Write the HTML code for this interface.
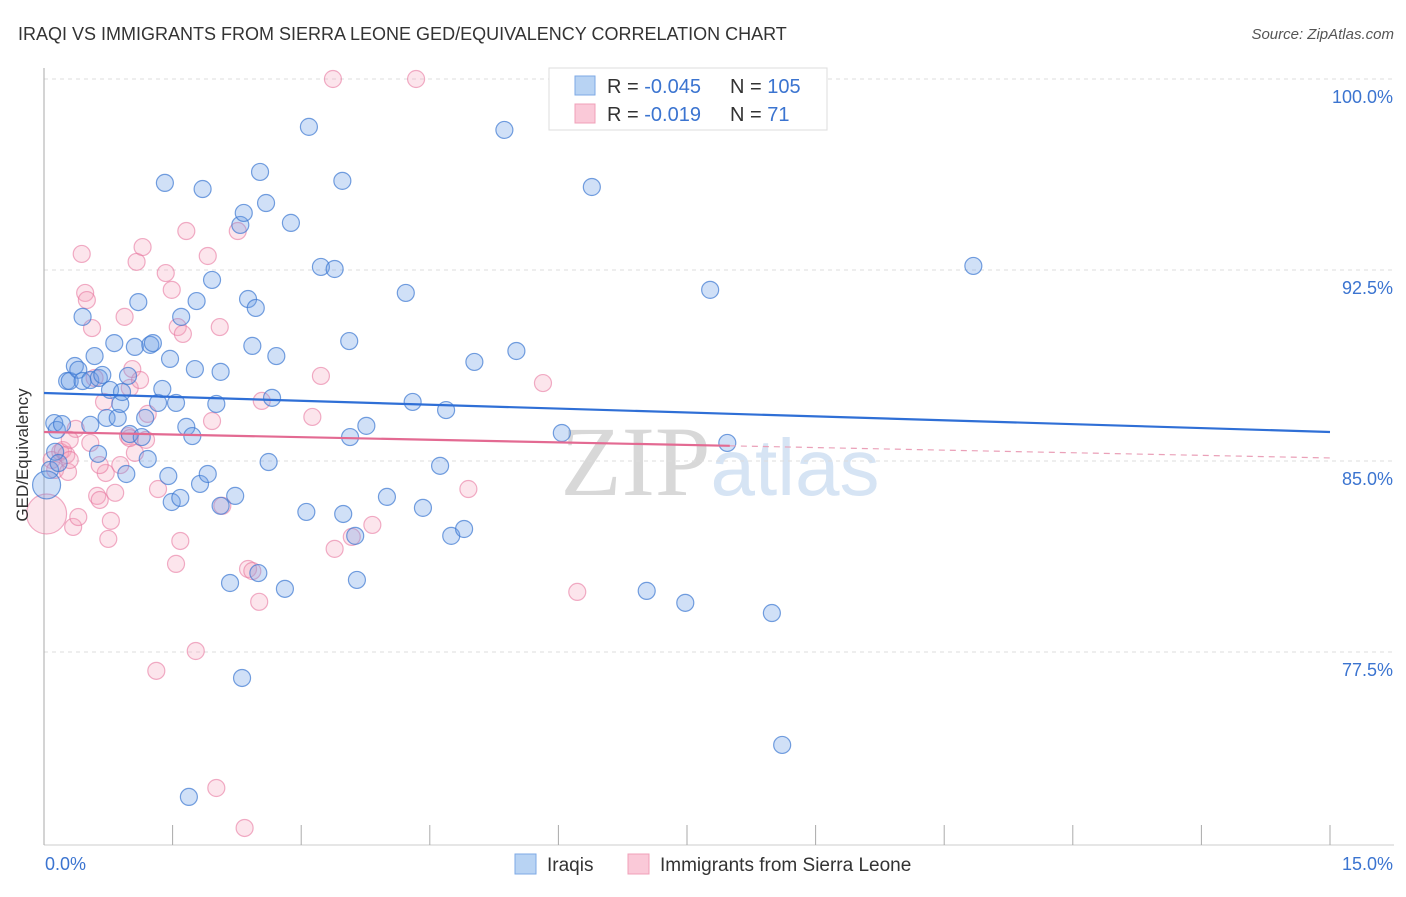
<!DOCTYPE html>
<html><head><meta charset="utf-8"><style>
body{margin:0;background:#fff;font-family:"Liberation Sans",sans-serif}
</style></head><body>
<svg width="1406" height="892" xmlns="http://www.w3.org/2000/svg" font-family="Liberation Sans, sans-serif">
<text x="18" y="40" font-size="18" fill="#333">IRAQI VS IMMIGRANTS FROM SIERRA LEONE GED/EQUIVALENCY CORRELATION CHART</text>
<text x="1394" y="39" font-size="15" fill="#555" text-anchor="end" font-style="italic">Source: ZipAtlas.com</text>
<text x="720" y="495" font-size="100" fill="#ddd" text-anchor="middle" font-family="Liberation Serif, serif"><tspan fill="#d8d8d8">ZIP</tspan><tspan fill="#d6e4f4" font-family="Liberation Sans, sans-serif" font-size="80">atlas</tspan></text>
<g id="grid"></g>
<g id="axes"></g>
<g id="pts"></g>
<g id="trend"></g>
<text x="28" y="455" font-size="17" fill="#333" text-anchor="middle" transform="rotate(-90 28 455)">GED/Equivalency</text>
<g>
<rect x="549" y="68" width="278" height="62" fill="#fff" stroke="#ddd"/>
<rect x="575" y="76" width="20" height="19" fill="#b8d3f3" stroke="#7eaae6"/>
<rect x="575" y="104" width="20" height="19" fill="#fac9d8" stroke="#f0a0b8"/>
<text x="607" y="93" font-size="20" fill="#333">R = <tspan fill="#3b74d0">-0.045</tspan></text>
<text x="730" y="93" font-size="20" fill="#333">N = <tspan fill="#3b74d0">105</tspan></text>
<text x="607" y="121" font-size="20" fill="#333">R = <tspan fill="#3b74d0"> -0.019</tspan></text>
<text x="730" y="121" font-size="20" fill="#333">N = <tspan fill="#3b74d0">  71</tspan></text>
</g>
<g>
<rect x="515" y="854" width="21" height="20" fill="#b8d3f3" stroke="#7eaae6"/>
<text x="547" y="871" font-size="19" fill="#333">Iraqis</text>
<text x="660" y="871" font-size="19" fill="#333">Immigrants from Sierra Leone</text>
<rect x="628" y="854" width="21" height="20" fill="#fac9d8" stroke="#f0a0b8"/>
</g>
</svg>
<script>
const xTicks=[0,1.5,3,4.5,6,7.5,9,10.5,12,13.5,15];
const yTicks=[100,92.5,85,77.5];
const yTickLabels=["100.0%","92.5%","85.0%","77.5%"];
const xTickLabels=["0.0%","15.0%"];
const iraqiX=[.12,.15,.07,.03,.27,.30,.36,.40,.45,.45,.54,.59,.64,.63,.54,.68,.73,.77,.82,.86,.89,.91,.96,.98,1.00,1.06,1.10,1.14,1.18,1.21,1.24,1.27,1.33,1.38,1.41,1.45,1.47,1.49,1.54,1.59,1.60,1.66,1.69,1.73,1.76,1.78,1.82,1.85,1.91,1.96,2.01,2.06,2.06,2.17,2.23,2.29,2.31,2.33,2.38,2.43,2.47,2.50,2.52,2.59,2.62,2.66,2.71,2.81,2.88,3.06,3.09,3.23,3.39,3.48,3.49,3.56,3.57,3.65,3.63,3.76,4.00,4.22,4.30,4.42,4.62,4.69,4.75,4.90,5.02,5.37,5.51,6.04,6.39,7.03,7.48,7.77,7.97,8.49,8.61,10.84,.13,.21,.17,6.64];
const iraqiY=[86.49,86.22,84.65,84.06,88.14,88.14,88.73,88.58,90.66,88.14,88.18,89.12,88.26,85.28,86.42,88.38,86.69,87.79,89.63,86.69,87.24,87.71,84.49,88.34,86.06,89.48,91.24,85.94,86.69,85.08,89.56,89.63,87.28,87.83,95.92,84.41,89.01,83.39,87.28,83.55,90.66,86.34,71.81,85.98,88.61,91.28,84.10,95.68,84.49,92.11,87.24,88.50,83.24,80.21,83.63,94.27,76.48,94.74,91.36,89.52,91.01,80.60,96.35,95.13,84.96,87.48,89.12,79.98,94.35,83.00,98.12,92.62,92.54,96.00,82.92,89.71,85.94,80.33,82.06,86.38,83.59,91.60,87.32,83.16,84.81,87.00,82.06,82.33,88.89,98.00,89.32,86.10,95.76,79.90,79.43,91.72,85.71,79.03,73.85,92.66,85.36,86.45,84.92,99.96];
const slX=[.03,.09,.13,.19,.22,.26,.28,.30,.34,.37,.40,.44,.48,.50,.54,.56,.62,.65,.70,.72,.75,.78,.83,.89,.94,.98,1.00,1.03,1.06,1.08,1.12,1.15,1.19,1.21,1.31,1.33,1.42,1.49,1.54,1.56,1.59,1.62,1.66,1.77,1.91,1.96,2.01,2.05,2.08,2.26,2.34,2.38,2.43,2.51,2.54,3.13,3.23,3.37,3.39,3.59,3.83,4.34,4.95,5.82,6.22,1.00,.30,.59,.65];
const slY=[82.92,85.04,84.65,85.36,85.43,85.24,84.57,85.04,82.41,86.26,82.80,93.13,91.60,91.32,85.71,90.22,83.63,83.47,87.32,84.53,81.94,82.65,83.75,84.84,90.66,85.98,87.87,88.61,85.32,92.82,88.18,93.40,85.83,86.85,76.76,83.90,92.38,91.72,80.96,90.26,81.86,89.99,94.03,77.54,93.05,86.57,72.16,90.26,83.24,94.03,70.59,80.76,80.68,79.47,87.36,86.73,88.34,100.0,81.55,82.02,82.49,100.0,83.90,88.06,79.86,85.90,85.83,88.26,84.84];
const iraqiTrend=[87.67,86.14];
const slTrend=[86.14,85.12];
const slSolidEnd=8.0;
const X=v=>44+v*(1330-44)/15;
const Y=v=>79+(100-v)*191/7.5;
const NS="http://www.w3.org/2000/svg";
function mk(p,t,a){const e=document.createElementNS(NS,t);for(const k in a)e.setAttribute(k,a[k]);p.appendChild(e);return e;}
const grid=document.getElementById('grid'),axes=document.getElementById('axes'),pts=document.getElementById('pts'),tr=document.getElementById('trend');
yTicks.forEach((v,i)=>{
 const l=mk(grid,'line',{x1:44,x2:1394,y1:Y(v),y2:Y(v),stroke:'#ddd','stroke-dasharray':'4,4'});
 
 
 const t=mk(axes,'text',{x:1393,y:Y(v)+24,'font-size':18,fill:'#3b74d0','text-anchor':'end'});
 t.textContent=yTickLabels[i];
 
 
});
const al=mk(axes,'line',{x1:44,x2:44,y1:68,y2:845,stroke:'#aaa'});


const bl=mk(axes,'line',{x1:44,x2:1394,y1:845,y2:845,stroke:'#ccc'});


xTicks.forEach(v=>{
 const t=mk(axes,'line',{x1:X(v),x2:X(v),y1:825,y2:845,stroke:'#aaa'});
 
 
});
[[0,'start',45],[15,'end',1393]].forEach((a,i)=>{
 const t=mk(axes,'text',{x:a[2],y:870,'font-size':18,fill:'#3b74d0','text-anchor':a[1]});
 t.textContent=xTickLabels[i];
 
 
});
function drawPts(xs,ys,fill,stroke,name){
 xs.forEach((x,i)=>{
  const r=(x<0.05&&name==='sierra-leone-point')?20:(x<0.05?14:8.5);
  const c=mk(pts,'circle',{cx:X(x),cy:Y(ys[i]),r:r,fill:fill,stroke:stroke,'stroke-width':1.2});
  
  
 });
}
drawPts(slX,slY,'rgba(244,160,188,0.28)','rgba(232,120,160,0.6)','sierra-leone-point');
drawPts(iraqiX,iraqiY,'rgba(110,160,230,0.32)','rgba(60,120,210,0.7)','iraqi-point');
const b=mk(tr,'line',{x1:X(0),y1:Y(iraqiTrend[0]),x2:X(15),y2:Y(iraqiTrend[1]),stroke:'#2f6fd6','stroke-width':2.2});


const sy=v=>slTrend[0]+(slTrend[1]-slTrend[0])*v/15;
const p1=mk(tr,'line',{x1:X(0),y1:Y(sy(0)),x2:X(slSolidEnd),y2:Y(sy(slSolidEnd)),stroke:'#e36a92','stroke-width':2.2});


const p2=mk(tr,'line',{x1:X(slSolidEnd),y1:Y(sy(slSolidEnd)),x2:X(15),y2:Y(sy(15)),stroke:'#eaa0b8','stroke-width':1.2,'stroke-dasharray':'6,5'});


</script>
</body></html>
